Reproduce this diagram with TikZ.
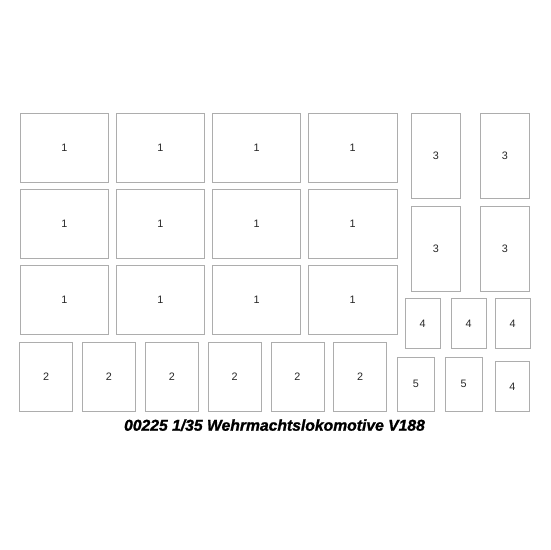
\documentclass[tikz,border=0pt]{standalone}
\usepackage{fontspec}
\setmainfont{Liberation Sans}
\newfontfamily\titlefont{Liberation Sans}[BoldItalicFeatures={FakeBold=1.3}]
\usetikzlibrary{positioning}

\begin{document}
\begin{tikzpicture}[x=1pt, y=-1pt, node distance={6.8pt},
  part/.style = {draw=black!32, line width=0.8pt, inner sep=0pt, text=black!85, font=\fontsize{10.8}{12}\selectfont},
  big/.style = {part, minimum width=88.5pt, minimum height=69pt},
  tall/.style = {part, minimum width=49.4pt, minimum height=84.7pt},
  mid/.style = {part, minimum width=53pt, minimum height=69.4pt},
  small/.style = {part, minimum width=34.6pt, minimum height=50pt},
  tiny/.style = {part, minimum width=36.8pt, minimum height=54pt}]
\useasboundingbox (0,0) rectangle (550,550);
% parts 1
\node[big] (11) at (64.4,147.8) {1};
\node[big] (12) [right=of 11] {1};
\node[big] (13) [right=of 12] {1};
\node[big] (14) [right=of 13] {1};
\node[big] (15) [below=6.4pt of 11] {1};
\node[big] (16) [right=of 15] {1};
\node[big] (17) [right=of 16] {1};
\node[big] (18) [right=of 17] {1};
\node[big] (19) [below=6.2pt of 15] {1};
\node[big] (110) [right=of 19] {1};
\node[big] (111) [right=of 110] {1};
\node[big] (112) [right=of 111] {1};
% parts 3
\node[tall] (31) at (436,155.7) {3};
\node[tall] (32) [right=18.8pt of 31] {3};
\node[tall] (33) [below=7.9pt of 31] {3};
\node[tall] (34) [right=18.8pt of 33] {3};
% parts 4
\node[small] (41) at (422.7,323.3) {4};
\node[small] (42) [right=10.6pt of 41] {4};
\node[small] (43) [right=8.6pt of 42] {4};
% parts 2
\node[mid] (21) at (46.2,377) {2};
\node[mid] (22) [right=9pt of 21] {2};
\node[mid] (23) [right=9pt of 22] {2};
\node[mid] (24) [right=9pt of 23] {2};
\node[mid] (25) [right=9pt of 24] {2};
\node[mid] (26) [right=9pt of 25] {2};
% parts 5 and the last 4
\node[tiny] (51) at (415.8,384.3) {5};
\node[tiny] (52) [right=10.2pt of 51] {5};
\node[small, minimum height=49.6pt] (44) at (512.5,386.5) {4};
% title
\node[anchor=base, inner sep=0pt, font=\titlefont\fontsize{15.7}{17}\selectfont\bfseries\itshape] (title) at (274.5,430.7) {00225 1/35 Wehrmachtslokomotive V188};
\end{tikzpicture}
\end{document}
